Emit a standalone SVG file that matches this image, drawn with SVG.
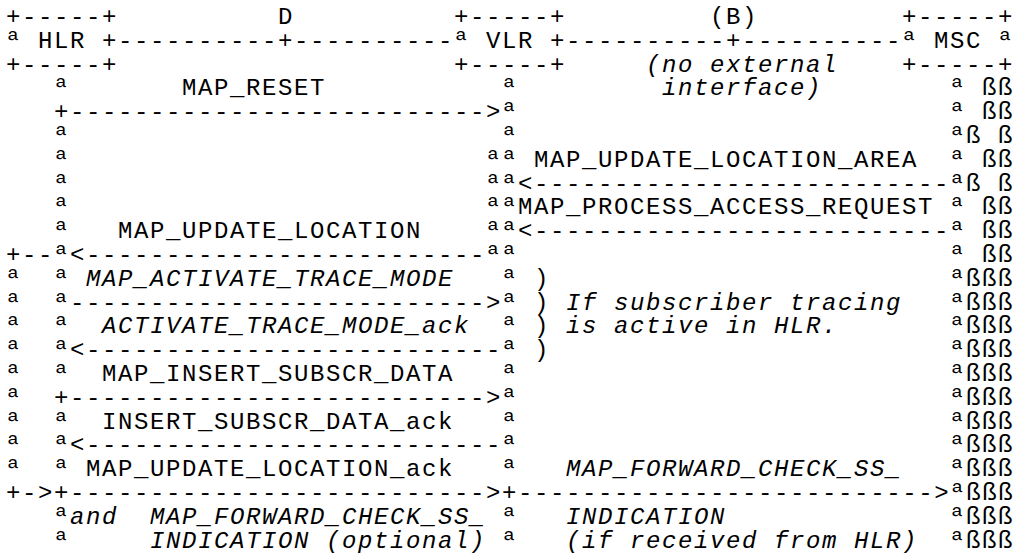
<svg xmlns="http://www.w3.org/2000/svg" width="1013" height="555" viewBox="0 0 1013 555" xml:space="preserve">
<style>
text { font-family: "Liberation Mono", "DejaVu Sans Mono", monospace; font-size: 24px; letter-spacing: 1.6px; fill: #000; white-space: pre; }
.i { font-style: italic; }
</style>
<rect x="0" y="0" width="1013" height="555" fill="#fff"/>
<g id="hlr">
<text x="6" y="24">+-----+</text>
<text x="6" y="47.8">ª HLR +</text>
<text x="6" y="71.6">+-----+</text>
</g>
<g id="vlr">
<text x="454" y="24">+-----+</text>
<text x="454" y="47.8">ª VLR +</text>
<text x="454" y="71.6">+-----+</text>
</g>
<g id="msc">
<text x="902" y="24">+-----+</text>
<text x="902" y="47.8">ª MSC ª</text>
<text x="902" y="71.6">+-----+</text>
</g>
<g id="connectors">
<text x="118" y="47.8">----------+----------</text>
<text x="566" y="47.8">----------+----------</text>
<text x="54" y="119.2">+--------------------------&gt;ª</text>
<text x="486" y="190.6">ªª&lt;--------------------------</text>
<text x="486" y="238.2">ªª&lt;--------------------------</text>
<text x="6" y="262">+--ª&lt;-------------------------ªª</text>
<text x="70" y="309.6">--------------------------&gt;ª</text>
<text x="70" y="357.2">&lt;--------------------------ª</text>
<text x="54" y="404.8">+--------------------------&gt;ª</text>
<text x="70" y="452.4">&lt;--------------------------ª</text>
<text x="6" y="500">+-&gt;+--------------------------&gt;+--------------------------&gt;ªßßß</text>
</g>
<g id="lifelines">
<text x="54" y="95.4">ª</text><text x="502" y="95.4">ª</text>
<text x="54" y="143">ª</text><text x="502" y="143">ª</text>
<text x="54" y="166.8">ª</text><text x="486" y="166.8">ªª</text>
<text x="54" y="190.6">ª</text>
<text x="54" y="214.4">ª</text><text x="486" y="214.4">ªª</text>
<text x="54" y="238.2">ª</text>
<text x="6" y="285.8">ª  ª</text><text x="502" y="285.8">ª</text>
<text x="6" y="309.6">ª  ª</text>
<text x="6" y="333.4">ª  ª</text><text x="502" y="333.4">ª</text>
<text x="6" y="357.2">ª  ª</text>
<text x="6" y="381">ª  ª</text><text x="502" y="381">ª</text>
<text x="6" y="404.8">ª</text>
<text x="6" y="428.6">ª  ª</text><text x="502" y="428.6">ª</text>
<text x="6" y="452.4">ª  ª</text>
<text x="6" y="476.2">ª  ª</text><text x="502" y="476.2">ª</text>
<text x="54" y="523.8">ª</text><text x="502" y="523.8">ª</text>
<text x="54" y="547.6">ª</text><text x="502" y="547.6">ª</text>
</g>
<g id="msc-lifeline">
<text x="950" y="95.4">ª ßß</text>
<text x="950" y="119.2">ª ßß</text>
<text x="950" y="143">ªß ß</text>
<text x="950" y="166.8">ª ßß</text>
<text x="950" y="190.6">ªß ß</text>
<text x="950" y="214.4">ª ßß</text>
<text x="950" y="238.2">ª ßß</text>
<text x="950" y="262">ª ßß</text>
<text x="950" y="285.8">ªßßß</text>
<text x="950" y="309.6">ªßßß</text>
<text x="950" y="333.4">ªßßß</text>
<text x="950" y="357.2">ªßßß</text>
<text x="950" y="381">ªßßß</text>
<text x="950" y="404.8">ªßßß</text>
<text x="950" y="428.6">ªßßß</text>
<text x="950" y="452.4">ªßßß</text>
<text x="950" y="476.2">ªßßß</text>
<text x="950" y="523.8">ªßßß</text>
<text x="950" y="547.6">ªßßß</text>
</g>
<g id="labels">
<text x="278" y="24">D</text>
<text x="710" y="24">(B)</text>
<text class="i" x="646" y="71.6">(no external</text>
<text x="182" y="95.4">MAP_RESET</text>
<text class="i" x="662" y="95.4">interface)</text>
<text x="534" y="166.8">MAP_UPDATE_LOCATION_AREA</text>
<text x="518" y="214.4">MAP_PROCESS_ACCESS_REQUEST</text>
<text x="118" y="238.2">MAP_UPDATE_LOCATION</text>
<text class="i" x="86" y="285.8">MAP_ACTIVATE_TRACE_MODE</text>
<text x="534" y="285.8">)</text>
<text x="534" y="309.6">)</text>
<text class="i" x="566" y="309.6">If subscriber tracing</text>
<text class="i" x="102" y="333.4">ACTIVATE_TRACE_MODE_ack</text>
<text x="534" y="333.4">)</text>
<text class="i" x="566" y="333.4">is active in HLR.</text>
<text x="534" y="357.2">)</text>
<text x="102" y="381">MAP_INSERT_SUBSCR_DATA</text>
<text x="102" y="428.6">INSERT_SUBSCR_DATA_ack</text>
<text x="86" y="476.2">MAP_UPDATE_LOCATION_ack</text>
<text class="i" x="566" y="476.2">MAP_FORWARD_CHECK_SS_</text>
<text class="i" x="70" y="523.8">and</text>
<text class="i" x="150" y="523.8">MAP_FORWARD_CHECK_SS_</text>
<text class="i" x="566" y="523.8">INDICATION</text>
<text class="i" x="150" y="547.6">INDICATION (optional)</text>
<text class="i" x="566" y="547.6">(if received from HLR)</text>
</g>
</svg>
